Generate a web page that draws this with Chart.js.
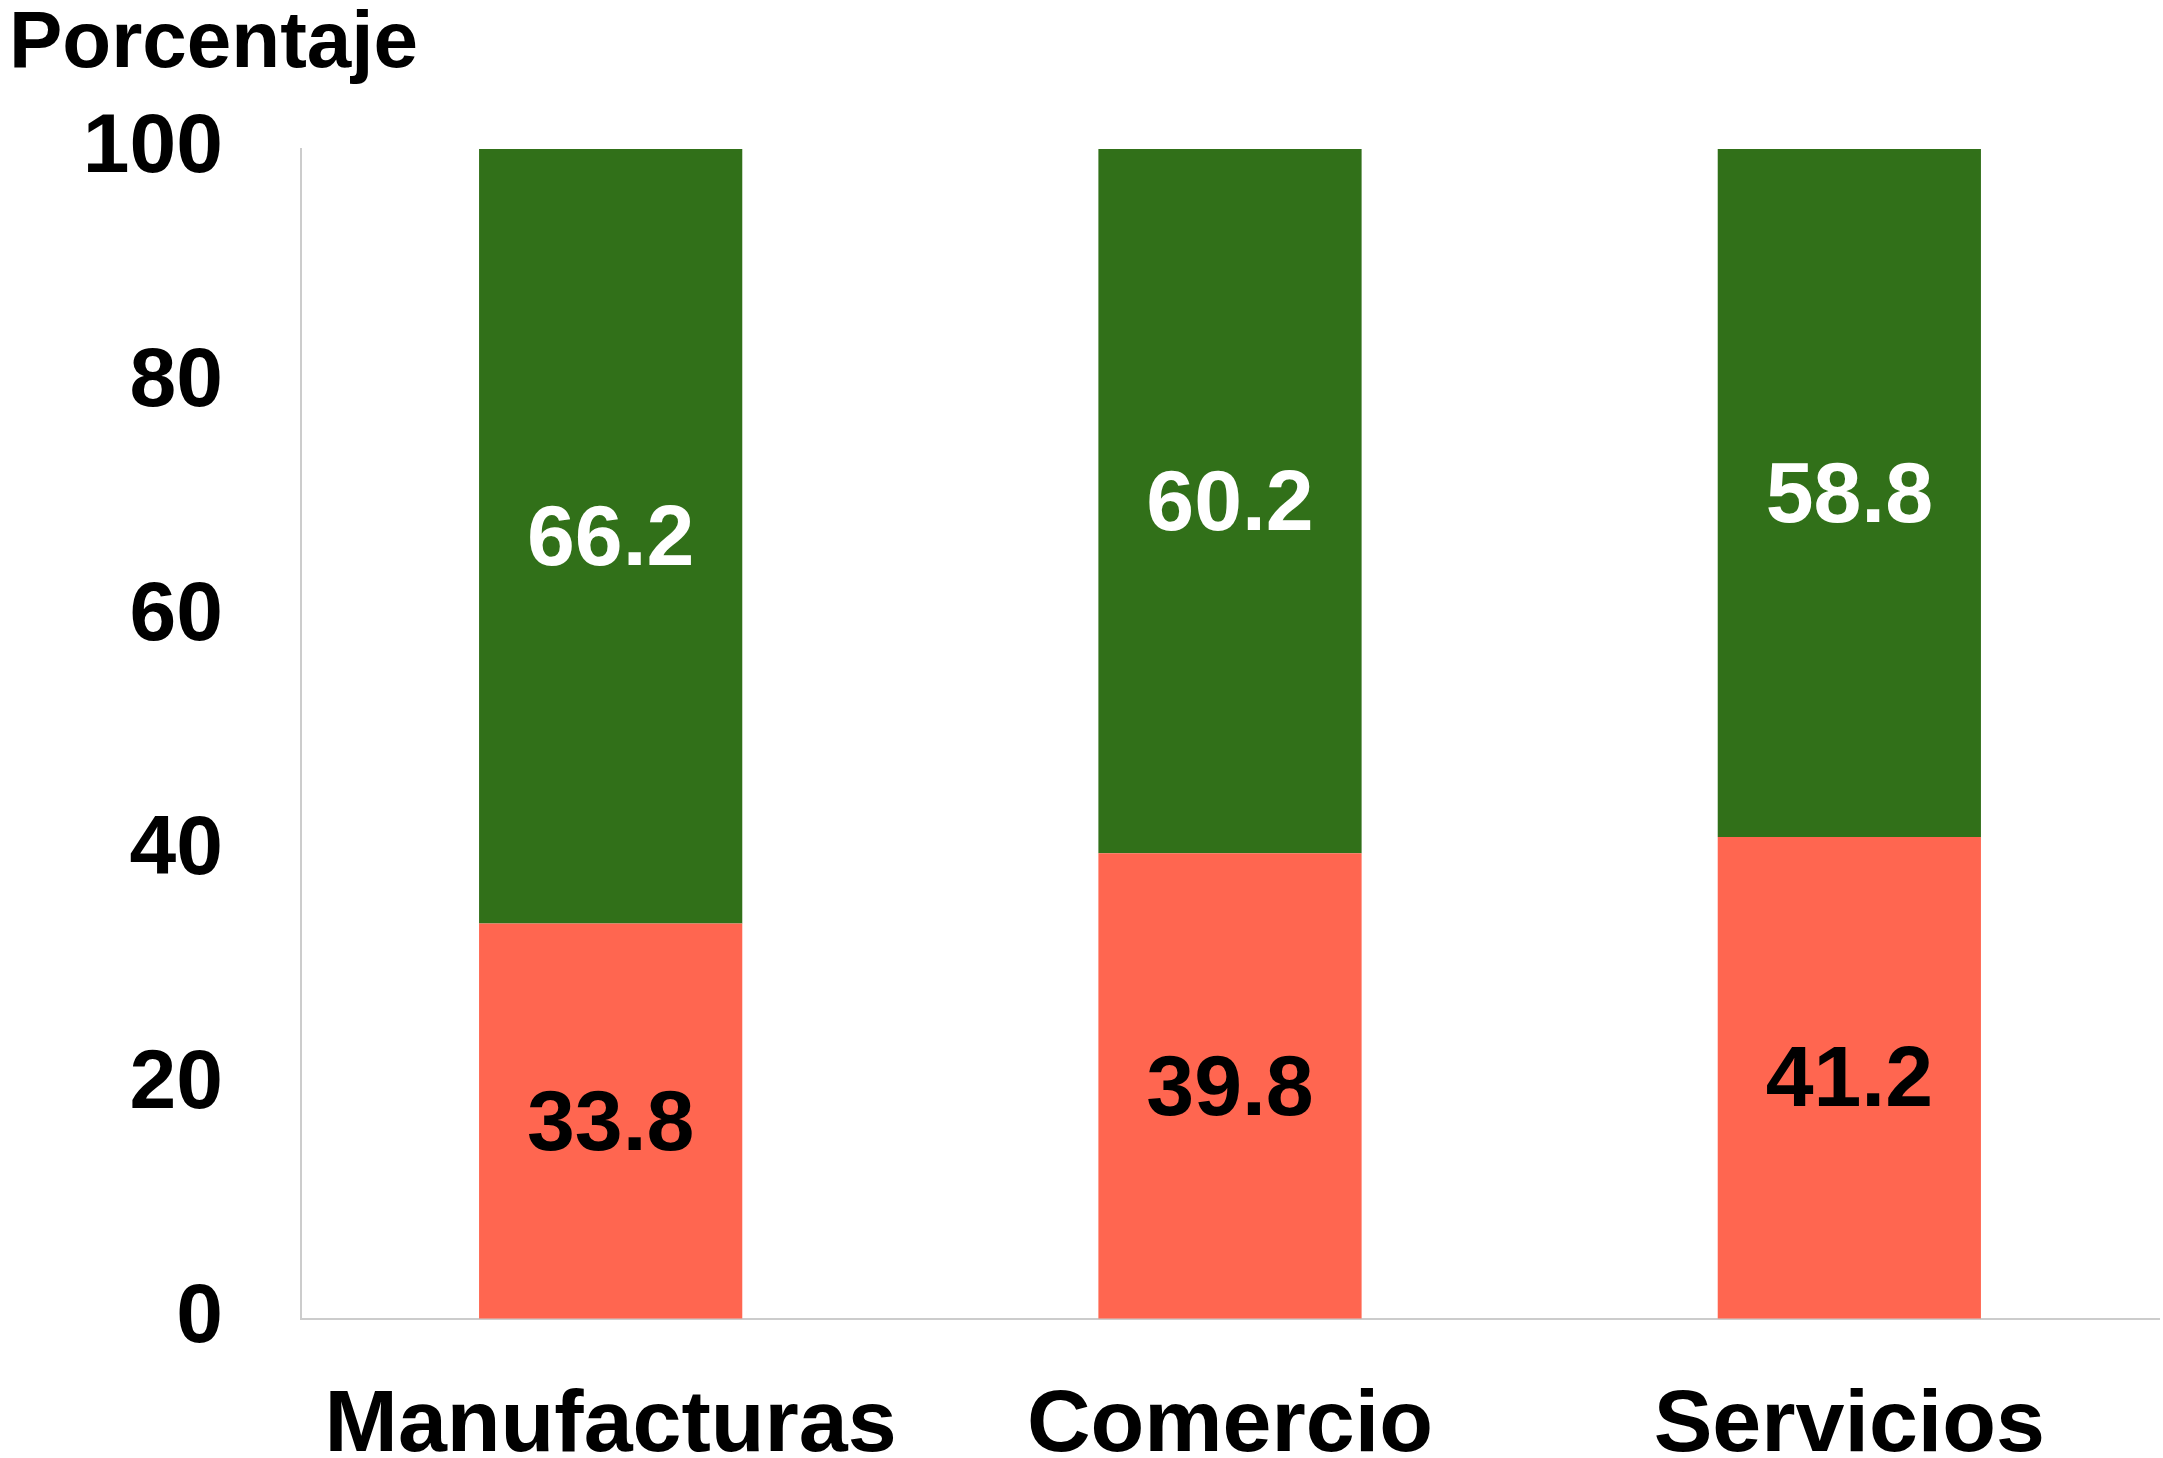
<!DOCTYPE html>
<html lang="es">
<head>
  <meta charset="UTF-8">
  <title>Porcentaje por sector</title>
  <script src="https://cdn.jsdelivr.net/npm/chart.js"></script>
  <style>
    html, body { margin: 0; padding: 0; background: #fff; }
    #wrap { width: 2163px; height: 1458px; }
  </style>
</head>
<body>
<div id="wrap">
  <canvas id="chart"></canvas>
</div>

<script>
  // datos
  const sectores = ['Manufacturas', 'Comercio', 'Servicios'];
  const parteRoja = [33.8, 39.8, 41.2];
  const parteVerde = [66.2, 60.2, 58.8];
  const ticksY = [0, 20, 40, 60, 80, 100];

  const FONT = "'Liberation Sans', Arial, sans-serif";

  // etiquetas dentro de las barras
  const etiquetas = {
    id: 'etiquetas',
    afterDatasetsDraw(chart) {
      const ctx = chart.ctx;
      ctx.save();
      ctx.font = 'bold 86px ' + FONT;
      ctx.textAlign = 'center';
      ctx.textBaseline = 'middle';
      chart.data.datasets.forEach((ds, i) => {
        const meta = chart.getDatasetMeta(i);
        meta.data.forEach((bar, j) => {
          ctx.fillStyle = ds.labelColor;
          ctx.fillText(ds.data[j].toFixed(1), bar.x, (bar.y + bar.base) / 2 + 5);
        });
      });
      ctx.restore();
    }
  };

  const ctx = document.getElementById('chart').getContext('2d');
  new Chart(ctx, {
    type: 'bar',
    data: {
      labels: sectores,
      datasets: [
        {
          data: parteRoja,
          backgroundColor: '#ff6650',
          labelColor: '#000000',
          barPercentage: 0.85,
          categoryPercentage: 0.5
        },
        {
          data: parteVerde,
          backgroundColor: '#317019',
          labelColor: '#ffffff',
          barPercentage: 0.85,
          categoryPercentage: 0.5
        }
      ]
    },
    options: {
      responsive: true,
      maintainAspectRatio: false,
      animation: false,
      layout: { padding: { left: 9, right: 4, top: 0, bottom: 0 } },
      plugins: {
        legend: { display: false },
        tooltip: { enabled: false },
        title: {
          display: true,
          text: 'Porcentaje',
          align: 'start',
          color: '#000',
          font: { family: FONT, size: 80, weight: 'bold', lineHeight: 1 },
          padding: { top: 5, bottom: 64 }
        }
      },
      scales: {
        x: {
          stacked: true,
          grid: { drawOnChartArea: false, drawTicks: false },
          border: { color: '#cccccc', width: 2 },
          ticks: {
            color: '#000',
            padding: 64,
            font: { family: FONT, size: 88, weight: 'bold', lineHeight: 1 }
          },
          afterFit(scale) { scale.height = 139; }
        },
        y: {
          stacked: true,
          min: 0,
          max: 100,
          grid: { drawOnChartArea: false, drawTicks: false },
          border: { color: '#cccccc', width: 2 },
          afterBuildTicks(scale) { scale.ticks = ticksY.map(v => ({ value: v })); },
          ticks: {
            color: '#000',
            padding: 78,
            font: { family: FONT, size: 84, weight: 'bold', lineHeight: 1 }
          },
          afterFit(scale) { scale.width = 292; }
        }
      }
    },
    plugins: [etiquetas]
  });
</script>
</body>
</html>
